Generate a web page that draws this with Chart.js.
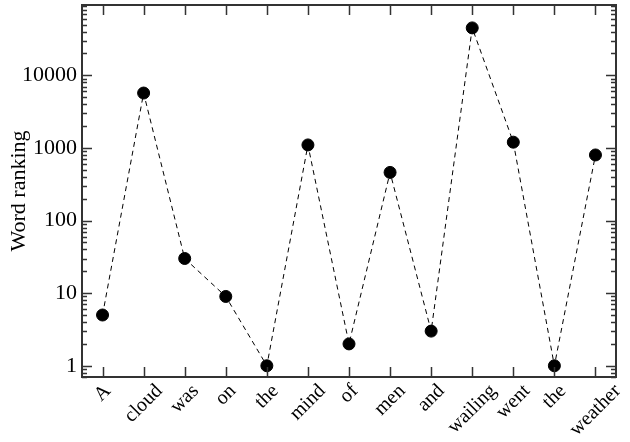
<!DOCTYPE html>
<html>
<head>
<meta charset="utf-8">
<script src="https://cdn.jsdelivr.net/npm/chart.js@4/dist/chart.umd.min.js"></script>
<style>
  body { margin: 0; background: #fff; }
  #wrap { width: 630px; height: 442px; }
</style>
</head>
<body>
<div id="wrap"><canvas id="myChart" width="630" height="442"></canvas></div>
<script>
// data
const words = ["A", "cloud", "was", "on", "the", "mind", "of", "men", "and", "wailing", "went", "the", "weather"];
const ranking = [5, 5700, 30, 9, 1, 1100, 2, 460, 3, 45000, 1200, 1, 800];
const majorTicks = [1, 10, 100, 1000, 10000];
const yMin = 0.7;
const yMax = 93000;

// all the minor tick values between yMin and yMax
let minorTicks = [];
for (let d = 0.1; d <= 10000; d *= 10) {
  for (let k = 2; k <= 9; k++) {
    let v = Math.round(d * k * 100) / 100;
    if (v >= yMin && v <= yMax) minorTicks.push(v);
  }
}

const serif = "'Liberation Serif', 'Times New Roman', serif";

// inward ticks on all four sides + frame
const frameTicks = {
  id: "frameTicks",
  afterDraw(chart) {
    const c = chart.ctx;
    const a = chart.chartArea;
    const x = chart.scales.x;
    const y = chart.scales.y;
    c.save();
    c.strokeStyle = "#333";
    c.lineWidth = 1.5;
    c.beginPath();
    majorTicks.forEach((v) => {
      let py = Math.round(y.getPixelForValue(v)) + 0.5;
      c.moveTo(a.left, py); c.lineTo(a.left + 10, py);
      c.moveTo(a.right, py); c.lineTo(a.right - 10, py);
    });
    minorTicks.forEach((v) => {
      let py = Math.round(y.getPixelForValue(v)) + 0.5;
      c.moveTo(a.left, py); c.lineTo(a.left + 5, py);
      c.moveTo(a.right, py); c.lineTo(a.right - 5, py);
    });
    words.forEach((w, i) => {
      let px = Math.round(x.getPixelForValue(i)) + 0.5;
      c.moveTo(px, a.bottom); c.lineTo(px, a.bottom - 10);
      c.moveTo(px, a.top); c.lineTo(px, a.top + 10);
    });
    c.stroke();
    c.lineWidth = 2;
    c.strokeRect(a.left, a.top, a.right - a.left, a.bottom - a.top);

    // x labels: rotated 45deg, centred on the tick, top just under the axis
    c.fillStyle = "#000";
    c.font = "20px " + serif;
    c.textAlign = "center";
    c.textBaseline = "middle";
    words.forEach((w, i) => {
      let px = x.getPixelForValue(i);
      let tw = c.measureText(w).width;
      let half = (tw + 14) * Math.SQRT1_2 / 2;
      c.save();
      c.translate(px, a.bottom + 6 + half);
      c.rotate(-Math.PI / 4);
      c.fillText(w, 0, 0);
      c.restore();
    });
    c.restore();
  },
};

const ctx = document.getElementById("myChart");

new Chart(ctx, {
  type: "line",
  data: {
    labels: words,
    datasets: [
      {
        data: ranking,
        borderColor: "#000",
        borderWidth: 1,
        borderDash: [5, 4],
        pointRadius: 6,
        pointBackgroundColor: "#000",
        pointBorderColor: "#000",
        tension: 0,
      },
    ],
  },
  options: {
    responsive: false,
    animation: false,
    layout: { autoPadding: false, padding: { top: 5, right: 14, left: 0, bottom: 0 } },
    plugins: {
      legend: { display: false },
      tooltip: { enabled: false },
    },
    scales: {
      x: {
        offset: true,
        grid: { display: false, drawTicks: false },
        border: { display: false },
        ticks: { display: false },
        afterFit(scale) {
          scale.height = 65;
          scale.paddingLeft = 0;
          scale.paddingRight = 0;
        },
      },
      y: {
        type: "logarithmic",
        min: yMin,
        max: yMax,
        grid: { display: false, drawTicks: false },
        border: { display: false },
        afterBuildTicks(scale) {
          scale.ticks = majorTicks.map((v) => ({ value: v }));
        },
        ticks: {
          color: "#000",
          font: { family: serif, size: 22 },
          padding: 5,
          callback: (v) => String(v),
        },
        title: {
          display: true,
          text: "Word ranking",
          color: "#000",
          font: { family: serif, size: 22 },
          padding: { top: 6, bottom: 0 },
        },
        afterFit(scale) {
          scale.width = 82;
          scale.paddingTop = 0;
          scale.paddingBottom = 0;
        },
      },
    },
  },
  plugins: [frameTicks],
});
</script>
</body>
</html>
